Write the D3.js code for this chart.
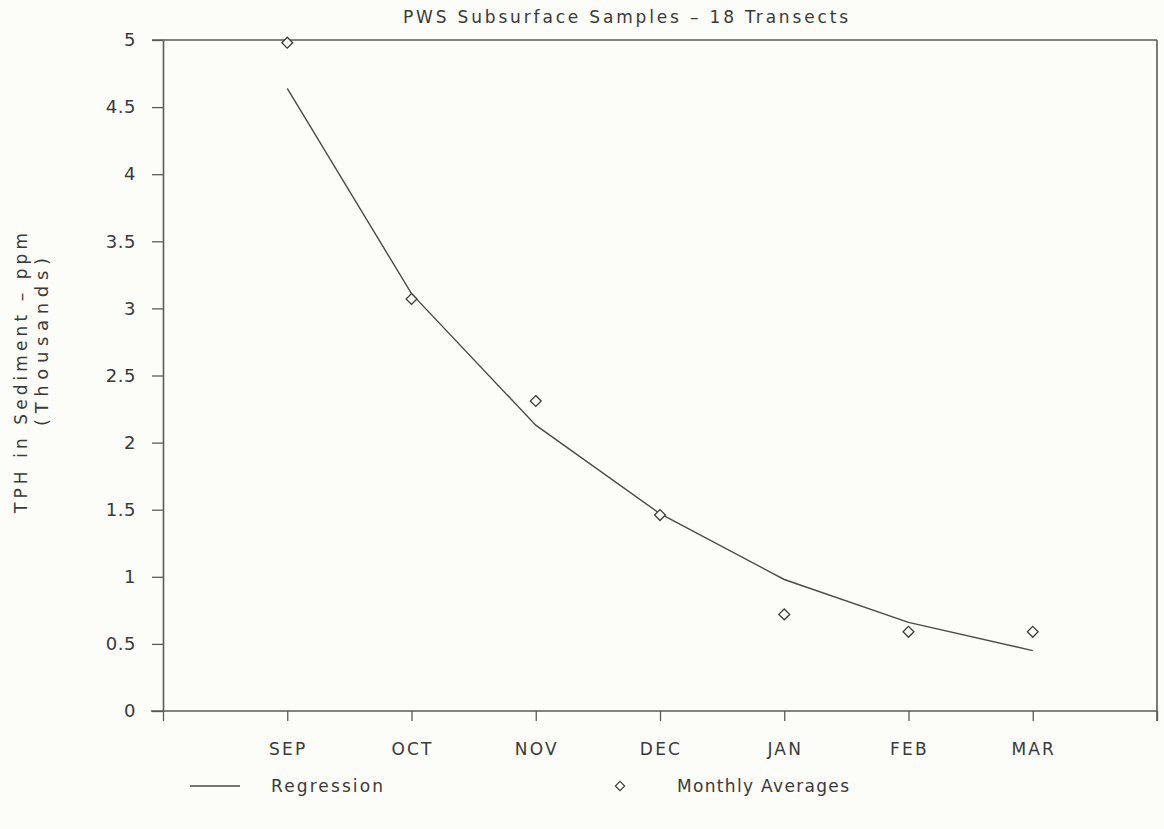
<!DOCTYPE html>
<html>
<head>
<meta charset="utf-8">
<script src="https://cdn.jsdelivr.net/npm/d3@7"></script>
<style>
  html, body { margin: 0; padding: 0; background: #fcfcf8; }
  svg { display: block; }
  text { font-family: "DejaVu Sans", "Noto Sans", sans-serif; fill: #3a3a3a; }
</style>
</head>
<body>
<svg id="chart" width="1164" height="829"></svg>
<script>
// ---- data ----
const months = ["SEP", "OCT", "NOV", "DEC", "JAN", "FEB", "MAR"];
const monthlyAverages = [4.98, 3.07, 2.31, 1.46, 0.72, 0.59, 0.59];
const regression = [4.64, 3.11, 2.13, 1.47, 0.98, 0.66, 0.45];
const yTicks = [0, 0.5, 1, 1.5, 2, 2.5, 3, 3.5, 4, 4.5, 5];
const yTickLabels = ["0", "0.5", "1", "1.5", "2", "2.5", "3", "3.5", "4", "4.5", "5"];
const titleText = "PWS Subsurface Samples \u2013 18 Transects";
const yLabel1 = "TPH in Sediment \u2013 ppm";
const yLabel2 = "(Thousands)";
const legendLabels = ["Regression", "Monthly Averages"];

// ---- layout ----
const svg = d3.select("#chart");
const mLeft = 163, mRight = 1157, mTop = 40, mBottom = 711;
const x = d3.scaleLinear().domain([0, months.length + 1]).range([mLeft, mRight]);
const y = d3.scaleLinear().domain([0, 5]).range([mBottom, mTop]);
const axisColor = "#5a5a5a";

// frame: top and right
svg.append("line").attr("x1", mLeft - 11).attr("x2", mRight).attr("y1", y(5)).attr("y2", y(5))
  .attr("stroke", axisColor).attr("stroke-width", 1.6);
svg.append("line").attr("x1", mRight).attr("x2", mRight).attr("y1", y(5)).attr("y2", mBottom + 10)
  .attr("stroke", axisColor).attr("stroke-width", 1.6);

// x axis
const xAxis = d3.axisBottom(x)
  .tickValues(d3.range(0, months.length + 2))
  .tickFormat(() => "")
  .tickSize(10).tickSizeOuter(0);
const gx = svg.append("g").attr("transform", `translate(0,${mBottom})`).call(xAxis);
gx.select(".domain").attr("stroke", axisColor).attr("stroke-width", 1.6)
  .attr("d", `M${mLeft - 12},0H${mRight}`);
gx.selectAll(".tick line").attr("stroke", axisColor).attr("stroke-width", 1.3);

svg.append("g").selectAll("text").data(months).join("text")
  .attr("x", (d, i) => x(i + 1) + 1).attr("y", mBottom + 44)
  .attr("text-anchor", "middle").attr("font-size", 17).attr("letter-spacing", 2.2)
  .text(d => d);

// y axis
const yAxis = d3.axisLeft(y).tickValues(yTicks)
  .tickFormat((d, i) => yTickLabels[i]).tickSize(11).tickSizeOuter(0).tickPadding(16);
const gy = svg.append("g").attr("transform", `translate(${mLeft},0)`).call(yAxis);
gy.select(".domain").attr("stroke", axisColor).attr("stroke-width", 1.6);
gy.selectAll(".tick line").attr("stroke", axisColor).attr("stroke-width", 1.3);
gy.selectAll(".tick text").attr("font-size", 18).attr("fill", "#3a3a3a")
  .attr("font-family", "DejaVu Sans, sans-serif").attr("letter-spacing", 0.5);

// title
svg.append("text").attr("x", 403).attr("y", 23).attr("font-size", 17)
  .attr("textLength", 445).attr("lengthAdjust", "spacing").text(titleText);

// y labels
svg.append("text").attr("transform", "translate(27,373) rotate(-90)")
  .attr("text-anchor", "middle").attr("font-size", 17)
  .attr("textLength", 280).attr("lengthAdjust", "spacing").text(yLabel1);
svg.append("text").attr("transform", "translate(48,342) rotate(-90)")
  .attr("text-anchor", "middle").attr("font-size", 18)
  .attr("textLength", 168).attr("lengthAdjust", "spacing").text(yLabel2);

// regression line
const line = d3.line().x((d, i) => x(i + 1)).y(d => y(d));
svg.append("path").datum(regression).attr("d", line)
  .attr("fill", "none").attr("stroke", "#4a4a4a").attr("stroke-width", 1.4);

// diamonds
const diamond = d3.symbol().type(d3.symbolDiamond2).size(75);
svg.append("g").selectAll("path").data(monthlyAverages).join("path")
  .attr("transform", (d, i) => `translate(${x(i + 1)},${y(d)})`)
  .attr("d", diamond).attr("fill", "#fcfcf8").attr("stroke", "#3a3a3a").attr("stroke-width", 1.3);

// legend
const ly = 786;
svg.append("line").attr("x1", 190).attr("x2", 240).attr("y1", ly).attr("y2", ly)
  .attr("stroke", "#4a4a4a").attr("stroke-width", 1.4);
svg.append("text").attr("x", 271).attr("y", ly + 6).attr("font-size", 17)
  .attr("textLength", 112).attr("lengthAdjust", "spacing").text(legendLabels[0]);
svg.append("path").attr("transform", `translate(620,${ly})`)
  .attr("d", d3.symbol().type(d3.symbolDiamond2).size(55))
  .attr("fill", "#fcfcf8").attr("stroke", "#3a3a3a").attr("stroke-width", 1.2);
svg.append("text").attr("x", 677).attr("y", ly + 6).attr("font-size", 17)
  .attr("textLength", 172).attr("lengthAdjust", "spacing").text(legendLabels[1]);
</script>
</body>
</html>
